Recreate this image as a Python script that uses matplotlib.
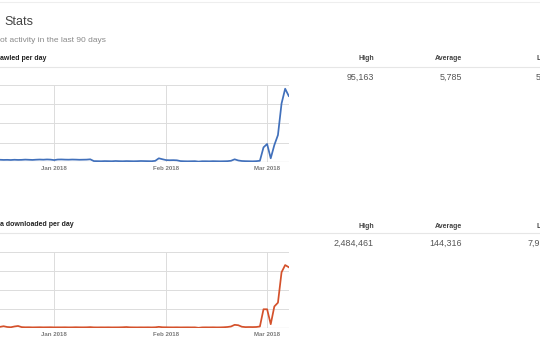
import datetime as dt
import matplotlib
matplotlib.use("Agg")
import matplotlib.pyplot as plt
import matplotlib.dates as mdates
from matplotlib.lines import Line2D

plt.rcParams['font.family'] = ['Liberation Sans', 'DejaVu Sans']

# ---------------- data ----------------
start = dt.date(2017, 12, 8)
dates = [start + dt.timedelta(days=i) for i in range(90)]

pages_crawled = [
    # Dec 8 - Dec 31
    3100, 2900, 3300, 2800, 3000, 3200, 2700, 3100, 3400,
    2900, 2700, 2800, 2600, 2900, 2700, 2800, 3100, 2900, 2700, 3000, 3200, 3000, 3300, 3100,
    # Jan 1 - Jan 31
    2500, 3200, 3300, 3100, 3000, 3200, 3100, 2900, 3000, 3100, 3500, 1200,
    1100, 1000, 1200, 1100, 1000, 1300, 1100, 1000, 1200, 1100, 1000, 1100, 1300, 1200, 1100, 1000,
    1500, 4800, 3600,
    # Feb 1 - Feb 28
    2500, 2300, 2400, 2200, 1200,
    1000, 900, 1000, 1100, 534, 1000, 1000, 900, 1100, 1000, 900, 1000, 1100,
    1600, 3500, 2000, 1300, 1100, 1000, 900, 1100, 1600, 19000,
    # Mar 1 - Mar 7
    23400, 4800, 22000, 35000, 76000, 95163, 85700,
]

kb_downloaded = [
    # Dec 8 - Dec 31
    30000, 28000, 35000, 25000, 30000, 32000, 26000, 30000, 38000,
    45000, 70000, 40000, 30000, 60000, 80000, 35000, 28000, 30000, 25000, 27000, 30000, 26000, 28000, 30000,
    # Jan 1 - Jan 31
    25000, 27000, 26000, 28000, 25000, 26000, 30000, 27000, 26000, 28000, 35000, 25000,
    24000, 26000, 25000, 27000, 24000, 25000, 26000, 30000, 38000, 27000, 25000, 24000, 26000, 25000, 27000, 24000,
    28000, 45000, 30000,
    # Feb 1 - Feb 28
    28000, 26000, 25000, 27000, 24000,
    25000, 26000, 24000, 25000, 7943, 24000, 26000, 25000, 27000, 24000, 25000, 30000, 40000,
    60000, 125000, 110000, 50000, 35000, 38000, 36000, 40000, 60000, 740000,
    # Mar 1 - Mar 7
    740000, 150000, 850000, 1000000, 2200000, 2484461, 2400000,
]

# texts as visible in the (cropped) screenshot
title_text = "Stats"
subtitle_text = "ot activity in the last 90 days"
pages_title = "awled per day"
kb_title = "a downloaded per day"
stat_headers = ["High", "Average", "L"]
pages_stats = ["95,163", "5,785", "5"]
kb_stats = ["2,484,461", "144,316", "7,9"]

month_ticks = [dt.date(2018, 1, 1), dt.date(2018, 2, 1), dt.date(2018, 3, 1)]
month_labels = ["Jan 2018", "Feb 2018", "Mar 2018"]

pages_yticks = [0, 25000, 50000, 75000, 100000]
kb_yticks = [0, 750000, 1500000, 2250000, 3000000]

# ---------------- layout helpers ----------------
W, H = 540, 360
fig = plt.figure(figsize=(W / 100, H / 100), dpi=100)
fig.patch.set_facecolor("white")


def fx(x):
    return x / W


def fy(y):
    return 1 - y / H


def hline(y, x0=0, x1=W, color="#e6e6e6", lw=0.8):
    fig.add_artist(Line2D([fx(x0), fx(x1)], [fy(y), fy(y)], transform=fig.transFigure,
                          color=color, lw=lw))


x_left = mdates.date2num(dt.datetime(2017, 12, 17))
x_right = mdates.date2num(dt.datetime(2018, 3, 7, 1, 30))


def chart(top, bottom, values, yticks, color):
    ax = fig.add_axes([0, fy(bottom), fx(289), (bottom - top) / H])
    ax.plot(mdates.date2num(dates), values, color=color, lw=1.25, solid_joinstyle="round")
    ax.set_xlim(x_left, x_right)
    ax.set_ylim(yticks[0], yticks[-1])
    ax.set_yticks(yticks)
    ax.set_xticks(mdates.date2num(month_ticks))
    ax.set_xticklabels(month_labels, fontsize=4.4, fontweight="bold", color="#7a7a7a")
    ax.set_yticklabels([])
    ax.tick_params(length=0, pad=3)
    ax.grid(True, color="#dcdcdc", lw=0.7)
    ax.set_axisbelow(True)
    for s in ax.spines.values():
        s.set_visible(False)
    ax.axhline(yticks[0], color="#b5b5b5", lw=0.8, zorder=1)
    ax.set_facecolor("none")
    return ax


def stats_row(y_head, y_val, values):
    # right-aligned columns for High / Average, cropped Low column at the right edge
    for cx, h, v in zip([374, 462], stat_headers[:2], values[:2]):
        fig.text(fx(cx), fy(y_head), h, fontsize=5, fontweight="bold", color="#444444",
                 ha="right", va="baseline")
        fig.text(fx(cx), fy(y_val), v, fontsize=6.4, color="#555555", ha="right", va="baseline")


# ---------------- header texts ----------------
hline(1.5, color="#eeeeee")
fig.text(fx(4), fy(25), title_text, fontsize=9, color="#444444", va="baseline")
fig.text(fx(0.5), fy(42), subtitle_text, fontsize=6, color="#8a8a8a", va="baseline")

# ---------------- block 1 ----------------
fig.text(fx(0.5), fy(60.5), pages_title, fontsize=5, fontweight="bold",
         color="#222222", va="baseline")
hline(66.5)
stats_row(60.5, 80, pages_stats)
fig.text(fx(536.5), fy(60.5), stat_headers[2], fontsize=5, fontweight="bold", color="#444444",
         ha="left", va="baseline")
fig.text(fx(535.5), fy(80), pages_stats[2], fontsize=6.4, color="#555555", ha="left",
         va="baseline")

chart(85, 162, pages_crawled, pages_yticks, "#4170bb")

# ---------------- block 2 ----------------
fig.text(fx(0), fy(226.5), kb_title, fontsize=5, fontweight="bold",
         color="#222222", va="baseline")
hline(232.5)
stats_row(227.5, 246, kb_stats)
fig.text(fx(536.5), fy(227.5), stat_headers[2], fontsize=5, fontweight="bold", color="#444444",
         ha="left", va="baseline")
fig.text(fx(527), fy(246), kb_stats[2], fontsize=6.4, color="#555555", ha="left",
         va="baseline")

chart(252, 328, kb_downloaded, kb_yticks, "#d4512b")

fig.savefig("out.png", dpi=100, facecolor="white")
